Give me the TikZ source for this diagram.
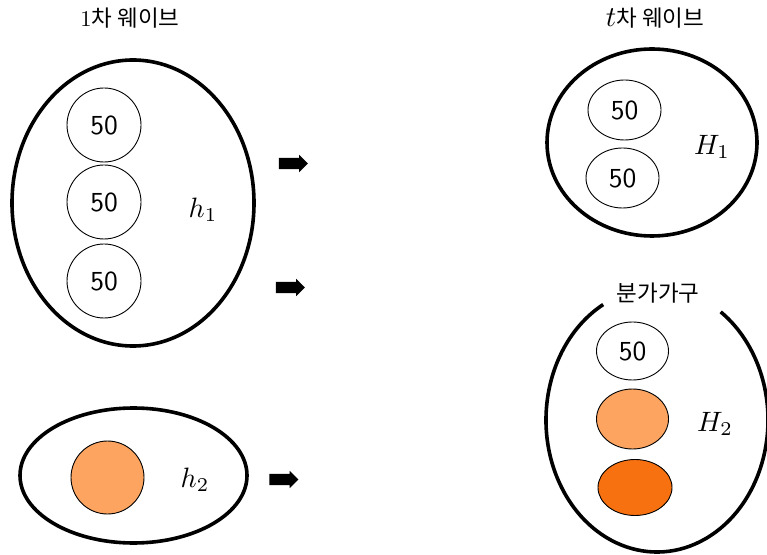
\documentclass[tikz,border=0pt]{standalone}
\usepackage{fontspec}
\newfontfamily\krfont{Noto Sans CJK KR}
\usetikzlibrary{shapes.geometric,shapes.arrows}

\definecolor{lightorange}{RGB}{252,164,96}
\definecolor{deeporange}{RGB}{247,113,16}

% digits inside the member circles
\newcommand\memtext[1]{\scalebox{2.75}{\sffamily #1}}

\tikzset{
  household/.style={draw=black, line width=3.6pt},
  member/.style={ellipse, draw=black, line width=0.9pt, inner sep=0pt},
  title/.style={font=\krfont, scale=2.25, inner sep=0pt},
  symb/.style={scale=2.8, inner sep=0pt},
  blockarrow/.style={single arrow, fill=black, draw=none, inner sep=0pt,
    minimum height=29pt, minimum width=17pt, single arrow head extend=3pt,
    inner ysep=5.5pt}
}

\begin{document}
\begin{tikzpicture}[x=1pt,y=1pt]
\useasboundingbox (0,0) rectangle (767,554);

% wave headings
\node[title] (waveA) at (130,536) {{\rmfamily 1}차 웨이브};
\node[title] (waveB) at (655,536) {\scalebox{1.28}{$t$}차 웨이브};

% first wave, household h1
\draw[household] (133,351) ellipse[x radius=121, y radius=143];
\node[member, minimum width=74pt, minimum height=74pt] (a1) at (104,429) {\memtext{50}};
\node[member, minimum width=74pt, minimum height=74pt] (a2) at (104,352) {\memtext{50}};
\node[member, minimum width=74pt, minimum height=74pt] (a3) at (104,273) {\memtext{50}};
\node[symb] (h1) at (203,344) {$h_1$};

% first wave, household h2
\draw[household] (133.5,78.5) ellipse[x radius=113.5, y radius=67.5];
\node[member, fill=lightorange, minimum width=73pt, minimum height=73pt] (b1) at (107.5,76.5) {};
\node[symb] (h2) at (195,74) {$h_2$};

% transition arrows
\node[blockarrow] (arr1) at (290.5,390.5) {};
\node[blockarrow] (arr2) at (287.5,266.5) {};
\node[blockarrow] (arr3) at (281,74.5) {};

% wave t, household H1
\draw[household] (652,411.5) ellipse[x radius=105, y radius=93.5];
\node[member, minimum width=73pt, minimum height=60pt] (c1) at (624.5,444) {\memtext{50}};
\node[member, minimum width=73pt, minimum height=60pt] (c2) at (622.5,376) {\memtext{50}};
\node[symb] (H1) at (712,407) {$H_1$};

% wave t, split-off household H2
\node[title] (split) at (658,261) {분가가구};
\draw[household] (657,134) ++(119:111 and 132)
  arc[start angle=119, end angle=415, x radius=111, y radius=132];
\node[member, minimum width=72pt, minimum height=58pt] (d1) at (632.5,203) {\memtext{50}};
\node[member, fill=lightorange, minimum width=72pt, minimum height=60pt] (d2) at (632.5,135) {};
\node[member, fill=deeporange, minimum width=74pt, minimum height=56pt] (d3) at (635,66.5) {};
\node[symb] (H2) at (715,130) {$H_2$};
\end{tikzpicture}
\end{document}
